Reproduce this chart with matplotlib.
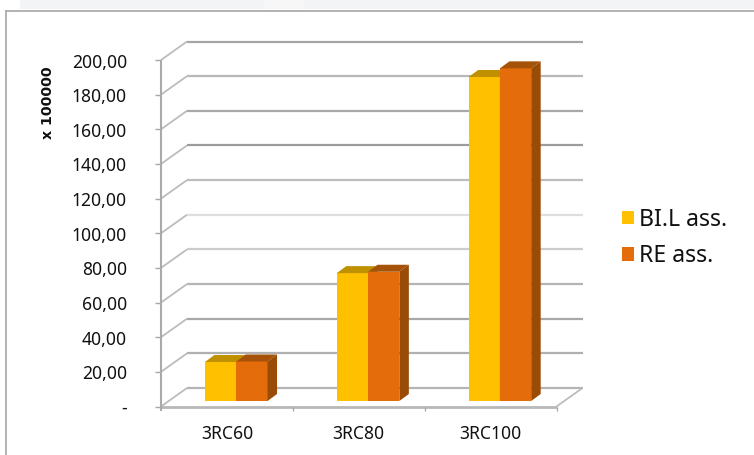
import matplotlib
matplotlib.use("Agg")
import matplotlib.pyplot as plt
from matplotlib.patches import Patch, Polygon, Rectangle

categories = ["3RC60", "3RC80", "3RC100"]
bil_ass = [22.5, 73.8, 187.0]
re_ass = [22.8, 74.6, 192.0]
series_names = ["BI.L ass.", "RE ass."]
y_ticks = [0, 20, 40, 60, 80, 100, 120, 140, 160, 180, 200]
y_tick_labels = ["-", "20,00", "40,00", "60,00", "80,00", "100,00", "120,00",
                 "140,00", "160,00", "180,00", "200,00"]
y_title = "x 100000"

W, H = 754, 455
plt.rcParams["font.family"] = ["Noto Sans", "DejaVu Sans"]
fig = plt.figure(figsize=(W / 100, H / 100), dpi=100, facecolor="white")

# Page band and chart frame, in pixel units
page = fig.add_axes([0, 0, 1, 1], zorder=0)
page.set_xlim(0, W)
page.set_ylim(H, 0)
page.axis("off")
page.add_patch(Rectangle((20, 0), W - 20, 9, fc="#f3f4f6", ec="none"))
page.add_patch(Rectangle((264, 0), 40, 9, fc="#f7f7f8", ec="none"))
page.plot([5.5, W], [10.5, 10.5], color="#a6a6a6", lw=1.2)
page.plot([5.5, 5.5], [10.5, H], color="#a6a6a6", lw=1.2)

# Plot axes cover the front plane of the 3D box
left, right, bottom, top = 161.0, 556.5, 406.5, 60.0
ax = fig.add_axes([left / W, 1 - bottom / H, (right - left) / W, (bottom - top) / H], zorder=1)
ax.set_xlim(0, 3)
ax.set_ylim(0, 200)
ax.axis("off")
px_x = 3 / (right - left)
px_y = 200 / (bottom - top)

# Box depth and bar depth, converted into data units
box_dx, box_dy = 26 * px_x, 18.5 * px_y
bar_dx, bar_dy = 9.5 * px_x, 7 * px_y
base_dx, base_dy = 9.3 * px_x, 5.5 * px_y
bar_w = 31.3 * px_x

grid_colors = ["#b4b4b4", "#b0b0b0", "#a8a8a8", "#b4b4b4", "#cccccc", "#dedede",
               "#bdbdbd", "#9c9c9c", "#a8a8a8", "#b8b8b8", "#a6a6a6"]
line_kw = dict(clip_on=False, solid_capstyle="butt")
for tick, col in zip(y_ticks, grid_colors):
    ax.plot([0, box_dx], [tick, tick + box_dy], color="#bcbcbc", lw=1.3, zorder=1, **line_kw)
    ax.plot([box_dx, 3 + box_dx], [tick + box_dy] * 2, color=col, lw=1.6, zorder=1, **line_kw)
    ax.plot([-6 * px_x, 0], [tick, tick], color="#a6a6a6", lw=1.0, zorder=2, **line_kw)

# Floor edges, value axis and category ticks
ax.plot([3, 3 + box_dx], [0, box_dy], color="#bcbcbc", lw=1.3, zorder=1, **line_kw)
ax.plot([0, 3], [0, 0], color="#b8b8b8", lw=2.0, zorder=2, **line_kw)
ax.plot([0, 0], [-4.5 * px_y, 200], color="#aaaaaa", lw=1.5, zorder=2, **line_kw)
for edge in range(1, 4):
    ax.plot([edge, edge], [-4.5 * px_y, 0], color="#a6a6a6", lw=0.9, zorder=2, **line_kw)


def draw_bars(values, offset, face, roof, side, z):
    for i, val in enumerate(values):
        x0 = i + 0.5 + base_dx + offset
        x1 = x0 + bar_w
        y0 = base_dy
        y1 = base_dy + val
        ax.bar(x0, val, width=bar_w, bottom=y0, align="edge", color=face, zorder=z, clip_on=False)
        ax.add_patch(Polygon([(x0, y1), (x1, y1), (x1 + bar_dx, y1 + bar_dy), (x0 + bar_dx, y1 + bar_dy)],
                             fc=roof, ec="none", zorder=z, clip_on=False))
        ax.add_patch(Polygon([(x1, y0), (x1, y1), (x1 + bar_dx, y1 + bar_dy), (x1 + bar_dx, y0 + bar_dy)],
                             fc=side, ec="none", zorder=z, clip_on=False))


colors = ["#ffc000", "#e46c0a"]
draw_bars(bil_ass, -bar_w, colors[0], "#bf9000", "#bf9000", 3)
draw_bars(re_ass, 0, colors[1], "#a65208", "#9a4b06", 4)

# Tick labels, axis title and legend
for tick, label in zip(y_ticks, y_tick_labels):
    ax.text(-34 * px_x, tick - 2.5 * px_y, label, ha="right", va="center", fontsize=12.6,
            color="#111111", clip_on=False)
for i, name in enumerate(categories):
    ax.text(i + 0.5, -27.5 * px_y, name, ha="center", va="center", fontsize=12.6,
            color="#111111", clip_on=False)
page.text(48, 103, y_title, rotation=90, ha="center", va="center", fontsize=10.2, fontweight="bold",
          family="DejaVu Sans", color="#111111")

handles = [Patch(fc=c, ec="none") for c in colors]
fig.legend(handles, series_names, loc="center left", bbox_to_anchor=(622 / W, 1 - 238 / H),
           frameon=False, fontsize=16.6, handlelength=0.52, handleheight=0.52, handletextpad=0.22,
           labelspacing=0.55, borderpad=0, borderaxespad=0, labelcolor="#111111")

fig.savefig("out.png", dpi=100, facecolor="white")
